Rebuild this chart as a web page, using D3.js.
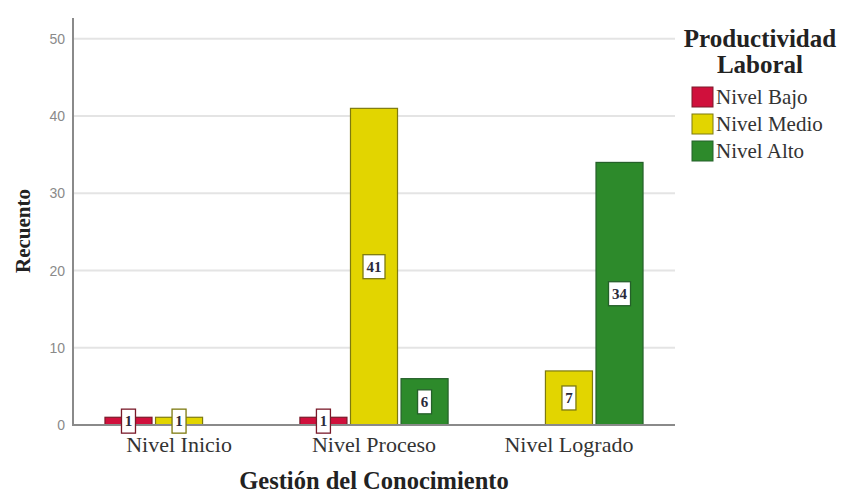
<!DOCTYPE html>
<html>
<head>
<meta charset="utf-8">
<script src="https://cdn.jsdelivr.net/npm/d3@7"></script>
<style>
  html, body { margin: 0; padding: 0; background: #fff; }
  svg { display: block; }
</style>
</head>
<body>
<svg id="chart" width="841" height="496"></svg>
<script>
// Gestión del Conocimiento x Productividad Laboral (recuento)
const categories = ["Nivel Inicio", "Nivel Proceso", "Nivel Logrado"];
const series = ["Nivel Bajo", "Nivel Medio", "Nivel Alto"];
const bajo  = [1, 1, 0];
const medio = [1, 41, 7];
const alto  = [0, 6, 34];
const yTicks = [0, 10, 20, 30, 40, 50];
const colors = ["#d0103c", "#e2d500", "#2d8a2b"];
const borders = ["#7a1a2a", "#7d7a10", "#25602a"];

const values = [bajo, medio, alto];
const rows = [];
categories.forEach((c, i) => {
  series.forEach((s, j) => {
    if (values[j][i] > 0) rows.push({ cat: c, ser: s, j, v: values[j][i] });
  });
});

const svg = d3.select("#chart");
const serif = "'Liberation Serif', 'Times New Roman', serif";
const sans = "'Liberation Sans', 'DejaVu Sans', sans-serif";

const plotLeft = 73, plotRight = 675, plotTop = 18, plotBottom = 425;

const y = d3.scaleLinear().domain([0, 52.7]).range([plotBottom, plotTop]);
const x0 = d3.scaleBand().domain(categories).range([plotLeft, plotRight])
  .paddingInner(0.24).paddingOuter(0.164);
const x1 = d3.scaleBand().domain(series).range([0, x0.bandwidth()])
  .paddingInner(0.07);

// gridlines
svg.append("g")
  .selectAll("line").data(yTicks.filter(t => t > 0)).join("line")
  .attr("x1", plotLeft).attr("x2", plotRight)
  .attr("y1", d => y(d)).attr("y2", d => y(d))
  .attr("stroke", "#e4e4e4").attr("stroke-width", 2);

// y axis
const yAxis = svg.append("g")
  .attr("transform", `translate(${plotLeft},0)`)
  .call(d3.axisLeft(y).tickValues(yTicks).tickSize(0).tickPadding(8));
yAxis.select(".domain").remove();
yAxis.selectAll("text")
  .attr("font-family", sans).attr("font-size", 14).attr("fill", "#8a8a8a");

// bars
svg.append("g")
  .selectAll("rect").data(rows).join("rect")
  .attr("x", d => x0(d.cat) + x1(d.ser))
  .attr("width", x1.bandwidth())
  .attr("y", d => y(d.v))
  .attr("height", d => y(0) - y(d.v))
  .attr("fill", d => colors[d.j])
  .attr("stroke", d => borders[d.j])
  .attr("stroke-width", 1.2);

// axis lines
svg.append("line").attr("x1", plotLeft).attr("x2", plotLeft).attr("y1", plotTop).attr("y2", plotBottom + 1)
  .attr("stroke", "#8a8a8a").attr("stroke-width", 2);
svg.append("line").attr("x1", plotLeft).attr("x2", plotRight).attr("y1", plotBottom).attr("y2", plotBottom)
  .attr("stroke", "#8a8a8a").attr("stroke-width", 2);

// value labels
const lab = svg.append("g").selectAll("g").data(rows).join("g")
  .attr("transform", d => `translate(${x0(d.cat) + x1(d.ser) + x1.bandwidth() / 2},${y(d.v / 2)})`);
lab.append("rect")
  .attr("x", d => String(d.v).length > 1 ? -11 : -7)
  .attr("width", d => String(d.v).length > 1 ? 22 : 14)
  .attr("y", -12).attr("height", 24)
  .attr("fill", "#fff")
  .attr("stroke", d => borders[d.j]).attr("stroke-width", 1.3);
lab.append("text")
  .attr("text-anchor", "middle").attr("dy", "0.35em")
  .attr("font-family", serif).attr("font-size", 15).attr("font-weight", "bold")
  .attr("fill", "#2a2a3a")
  .text(d => d.v);

// category labels
svg.append("g").selectAll("text").data(categories).join("text")
  .attr("x", d => x0(d) + x0.bandwidth() / 2)
  .attr("y", 452)
  .attr("text-anchor", "middle")
  .attr("font-family", serif).attr("font-size", 22).attr("fill", "#333")
  .text(d => d);

// axis titles
svg.append("text")
  .attr("x", 374).attr("y", 489).attr("text-anchor", "middle")
  .attr("font-family", serif).attr("font-size", 24.5).attr("font-weight", "bold").attr("fill", "#222")
  .text("Gestión del Conocimiento");
svg.append("text")
  .attr("transform", "translate(30,231) rotate(-90)")
  .attr("text-anchor", "middle")
  .attr("font-family", serif).attr("font-size", 21).attr("font-weight", "bold").attr("fill", "#222")
  .text("Recuento");

// legend
const legend = svg.append("g");
legend.append("text").attr("x", 760).attr("y", 47).attr("text-anchor", "middle")
  .attr("font-family", serif).attr("font-size", 25).attr("font-weight", "bold").attr("fill", "#222")
  .text("Productividad");
legend.append("text").attr("x", 760).attr("y", 73).attr("text-anchor", "middle")
  .attr("font-family", serif).attr("font-size", 25).attr("font-weight", "bold").attr("fill", "#222")
  .text("Laboral");
const item = legend.selectAll("g").data(series).join("g")
  .attr("transform", (d, i) => `translate(692,${87 + i * 27})`);
item.append("rect").attr("width", 21).attr("height", 20)
  .attr("fill", (d, i) => colors[i]).attr("stroke", (d, i) => borders[i]).attr("stroke-width", 1);
item.append("text").attr("x", 24).attr("y", 17)
  .attr("font-family", serif).attr("font-size", 21).attr("fill", "#333")
  .text(d => d);
</script>
</body>
</html>
